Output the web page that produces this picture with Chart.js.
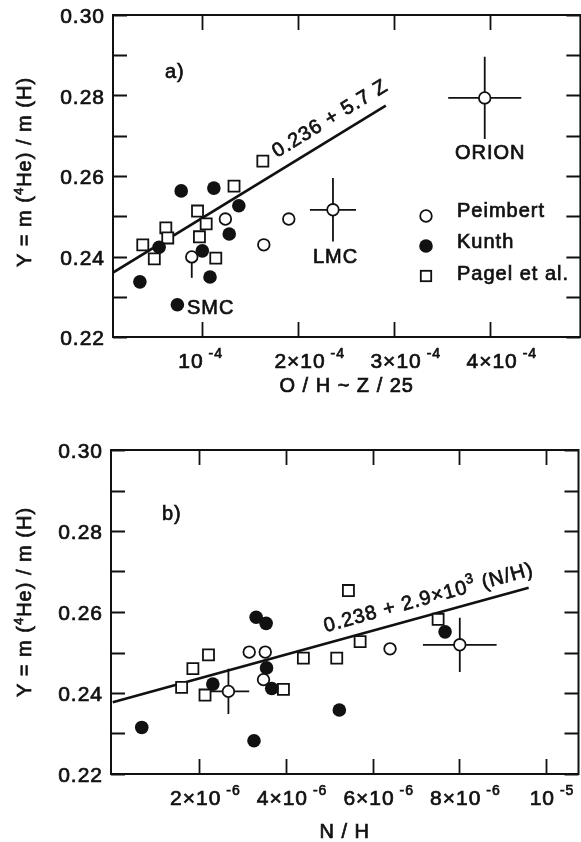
<!DOCTYPE html>
<html>
<head>
<meta charset="utf-8">
<script src="https://cdn.jsdelivr.net/npm/chart.js@4.4.1/dist/chart.umd.min.js"></script>
<style>
  html, body { margin: 0; padding: 0; background: #fff; overflow: hidden; }
  #wrap { position: relative; width: 581px; height: 842px; overflow: hidden; }
  canvas { position: absolute; left: 0; }
  #chartA { top: 0; }
  #chartB { top: 420px; }
</style>
</head>
<body>
<div id="wrap">
  <canvas id="chartA" width="590" height="420"></canvas>
  <canvas id="chartB" width="590" height="422"></canvas>
</div>
<script>
// ---- panel a) : Y vs O/H ----
const aPeimbertX = [0.89e-4, 1.24e-4, 1.64e-4, 1.90e-4, 2.36e-4, 3.94e-4];
const aPeimbertY = [0.2399, 0.2493, 0.2429, 0.2493, 0.2516, 0.2794];
const aPeimbertXErr = [0, 0, 0, 0, 0.24e-4, 0.38e-4];
const aPeimbertYErrLo = [0.0052, 0, 0, 0, 0.0079, 0.0102];
const aPeimbertYErrHi = [0, 0, 0, 0, 0.0079, 0.0102];
const aKunthX = [0.35e-4, 0.55e-4, 0.78e-4, 1.12e-4, 1.00e-4, 1.08e-4, 1.28e-4, 1.38e-4, 0.74e-4];
const aKunthY = [0.2337, 0.2423, 0.2563, 0.2570, 0.2414, 0.2349, 0.2456, 0.2526, 0.2280];
const aPagelX = [0.38e-4, 0.50e-4, 0.62e-4, 0.64e-4, 0.95e-4, 0.97e-4, 1.04e-4, 1.14e-4, 1.33e-4, 1.63e-4];
const aPagelY = [0.2429, 0.2394, 0.2471, 0.2446, 0.2513, 0.2449, 0.2481, 0.2396, 0.2575, 0.2637];
const aFitX = [0.07e-4, 2.91e-4];
const aFitY = [0.236, 0.2775];
const aXTicks = [1e-4, 2e-4, 3e-4, 4e-4];
const aXTickLabels = [['10', '-4'], ['2×10', '-4'], ['3×10', '-4'], ['4×10', '-4']];

// ---- panel b) : Y vs N/H ----
const bPeimbertX = [2.67e-6, 3.15e-6, 3.52e-6, 3.48e-6, 6.40e-6, 8.01e-6];
const bPeimbertY = [0.2404, 0.2501, 0.2501, 0.2433, 0.2509, 0.2519];
const bPeimbertXErr = [0.48e-6, 0, 0, 0, 0, 0.85e-6];
const bPeimbertYErrLo = [0.0056, 0, 0, 0, 0, 0.0067];
const bPeimbertYErrHi = [0.0056, 0, 0, 0, 0, 0.0067];
const bKunthX = [0.67e-6, 2.31e-6, 3.31e-6, 3.54e-6, 3.55e-6, 3.67e-6, 3.26e-6, 5.23e-6, 7.67e-6];
const bKunthY = [0.2315, 0.2422, 0.2587, 0.2572, 0.2462, 0.2411, 0.2282, 0.2358, 0.2551];
const bPagelX = [1.59e-6, 1.85e-6, 2.21e-6, 2.13e-6, 3.94e-6, 4.40e-6, 5.17e-6, 5.44e-6, 5.71e-6, 7.51e-6];
const bPagelY = [0.2414, 0.2460, 0.2494, 0.2395, 0.2409, 0.2486, 0.2486, 0.2653, 0.2527, 0.2582];
const bFitX = [0, 9.6e-6];
const bFitY = [0.2377, 0.266];
const bXTicks = [2e-6, 4e-6, 6e-6, 8e-6, 10e-6];
const bXTickLabels = [['2×10', '-6'], ['4×10', '-6'], ['6×10', '-6'], ['8×10', '-6'], ['10', '-5']];

// shared y axis
const yTicks = [0.22, 0.23, 0.24, 0.25, 0.26, 0.27, 0.28, 0.29, 0.30];
const yLabelTicks = [0.22, 0.24, 0.26, 0.28, 0.30];
const yTickLabels = ['0.22', '0.24', '0.26', '0.28', '0.30'];
const legendLabels = ['Peimbert', 'Kunth', 'Pagel et al.'];

const FONT = '"Liberation Sans", Arial, sans-serif';
const INK = '#111';

const zip = (xs, ys) => xs.map((x, i) => ({ x: x, y: ys[i] }));

// draw a row of text pieces: [text, size, raise]; a thin stroke thickens it like the print
function drawRuns(ctx, runs, x, y, align) {
  const widths = runs.map(r => { ctx.font = r[1] + 'px ' + FONT; return ctx.measureText(r[0]).width; });
  const total = widths.reduce((a, b) => a + b, 0);
  let cx = align === 'center' ? x - total / 2 : align === 'right' ? x - total : x;
  ctx.textAlign = 'left';
  ctx.textBaseline = 'alphabetic';
  ctx.lineWidth = 0.7;
  ctx.strokeStyle = INK;
  ctx.fillStyle = INK;
  runs.forEach((r, i) => {
    ctx.font = r[1] + 'px ' + FONT;
    ctx.fillText(r[0], cx, y - (r[2] || 0));
    ctx.strokeText(r[0], cx, y - (r[2] || 0));
    cx += widths[i];
  });
}

function makePaper(cfg) {
  return {
    id: 'paper',
    beforeDatasetsDraw(chart) {
      const ctx = chart.ctx, xs = chart.scales.x, ys = chart.scales.y;
      ctx.save();
      ctx.strokeStyle = INK;
      ctx.lineWidth = 1.8;
      const e = cfg.err;
      e.x.forEach((xv, i) => {
        const px = xs.getPixelForValue(xv), py = ys.getPixelForValue(e.y[i]);
        ctx.beginPath();
        if (e.xErr[i]) {
          ctx.moveTo(xs.getPixelForValue(xv - e.xErr[i]), py);
          ctx.lineTo(xs.getPixelForValue(xv + e.xErr[i]), py);
        }
        if (e.yLo[i] || e.yHi[i]) {
          ctx.moveTo(px, ys.getPixelForValue(e.y[i] - e.yLo[i]));
          ctx.lineTo(px, ys.getPixelForValue(e.y[i] + e.yHi[i]));
        }
        ctx.stroke();
      });
      ctx.restore();
    },
    afterDraw(chart) {
      const ctx = chart.ctx, a = chart.chartArea, xs = chart.scales.x, ys = chart.scales.y;
      ctx.save();
      ctx.strokeStyle = INK;
      ctx.fillStyle = INK;
      // frame
      ctx.lineWidth = 2;
      ctx.strokeRect(a.left, a.top, a.right - a.left, a.bottom - a.top);
      // inward ticks
      ctx.lineWidth = 1.8;
      ctx.beginPath();
      xs.ticks.forEach(t => {
        const px = Math.round(xs.getPixelForValue(t.value)) + 0.5;
        ctx.moveTo(px, a.bottom); ctx.lineTo(px, a.bottom - 15);
        ctx.moveTo(px, a.top); ctx.lineTo(px, a.top + 15);
      });
      ys.ticks.forEach(t => {
        const py = Math.round(ys.getPixelForValue(t.value)) + 0.5;
        ctx.moveTo(a.left, py); ctx.lineTo(a.left + 14, py);
        ctx.moveTo(a.right, py); ctx.lineTo(a.right - 14, py);
      });
      ctx.stroke();

      ctx.letterSpacing = '1px';
      // y tick labels
      yLabelTicks.forEach((v, i) => {
        drawRuns(ctx, [[yTickLabels[i], 21]], a.left - 8, ys.getPixelForValue(v) + 8, 'right');
      });
      // x tick labels with exponents
      cfg.xTicks.forEach((v, i) => {
        const lab = cfg.xLabels[i];
        drawRuns(ctx, [[lab[0], 21], [' ' + lab[1], 14, 10]],
          xs.getPixelForValue(v) + cfg.xLabelDx, a.bottom + 31, cfg.xLabelAlign);
      });
      // axis titles
      drawRuns(ctx, [[cfg.xTitle, 20]], (a.left + a.right) / 2, a.bottom + cfg.xTitleDy, 'center');
      ctx.save();
      ctx.translate(cfg.yTitlePos[0] + 7, cfg.yTitlePos[1]);
      ctx.rotate(-Math.PI / 2);
      drawRuns(ctx, [['Y = m (', 20], ['4', 13, 8], ['He) / m (H)', 20]], 0, 0, 'center');
      ctx.restore();

      // free labels
      cfg.texts.forEach(t => drawRuns(ctx, [[t[0], t[3] || 20]], t[1], t[2], 'left'));

      // fit equation along the line
      const x1 = xs.getPixelForValue(cfg.fitX[0]), y1 = ys.getPixelForValue(cfg.fitY[0]);
      const x2 = xs.getPixelForValue(cfg.fitX[1]), y2 = ys.getPixelForValue(cfg.fitY[1]);
      const ang = Math.atan2(y2 - y1, x2 - x1);
      const f = cfg.eq.at;
      ctx.save();
      ctx.translate(x1 + (x2 - x1) * f, y1 + (y2 - y1) * f);
      ctx.rotate(ang);
      drawRuns(ctx, cfg.eq.runs, 0, -cfg.eq.gap, 'center');
      ctx.restore();

      // legend
      if (cfg.legend) {
        const L = cfg.legend;
        ctx.strokeStyle = INK;
        ctx.lineWidth = 1.8;
        ctx.fillStyle = '#fff';
        ctx.beginPath(); ctx.arc(L.x, L.ys[0], 5.8, 0, Math.PI * 2); ctx.fill(); ctx.stroke();
        ctx.fillStyle = INK;
        ctx.beginPath(); ctx.arc(L.x, L.ys[1], 6.8, 0, Math.PI * 2); ctx.fill();
        ctx.strokeRect(L.x - 5.2, L.ys[2] - 5.2, 10.4, 10.4);
        legendLabels.forEach((lab, i) => drawRuns(ctx, [[lab, 20]], L.tx, L.tys[i], 'left'));
      }
      ctx.restore();
    }
  };
}

function makeChart(id, cfg) {
  return new Chart(document.getElementById(id), {
    type: 'scatter',
    data: {
      datasets: [
        { label: legendLabels[1], data: zip(cfg.kunth[0], cfg.kunth[1]), pointStyle: 'circle',
          pointRadius: 6.8, backgroundColor: INK, borderColor: INK, borderWidth: 0 },
        { label: legendLabels[0], data: zip(cfg.peimbert[0], cfg.peimbert[1]), pointStyle: 'circle',
          pointRadius: 5.8, backgroundColor: '#fff', borderColor: INK, borderWidth: 1.8 },
        { label: legendLabels[2], data: zip(cfg.pagel[0], cfg.pagel[1]), pointStyle: 'rect',
          pointRadius: 7.8, backgroundColor: '#fff', borderColor: INK, borderWidth: 1.8 },
        { label: 'fit', data: zip(cfg.fitX, cfg.fitY), showLine: true, pointRadius: 0,
          borderColor: INK, borderWidth: 2.6, fill: false }
      ]
    },
    options: {
      responsive: false,
      animation: false,
      events: [],
      devicePixelRatio: 1,
      layout: { padding: cfg.padding },
      plugins: { legend: { display: false }, tooltip: { enabled: false } },
      scales: {
        x: {
          type: 'linear', min: cfg.xMin, max: cfg.xMax,
          afterBuildTicks: s => { s.ticks = cfg.xTicks.map(v => ({ value: v })); },
          afterFit: s => { s.height = 0; },
          ticks: { display: false }, grid: { display: false }, border: { display: false }
        },
        y: {
          type: 'linear', min: 0.22, max: 0.30,
          afterBuildTicks: s => { s.ticks = yTicks.map(v => ({ value: v })); },
          afterFit: s => { s.width = 0; },
          ticks: { display: false }, grid: { display: false }, border: { display: false }
        }
      }
    },
    plugins: [makePaper(cfg)]
  });
}

makeChart('chartA', {
  peimbert: [aPeimbertX, aPeimbertY], kunth: [aKunthX, aKunthY], pagel: [aPagelX, aPagelY],
  fitX: aFitX, fitY: aFitY,
  err: { x: aPeimbertX, y: aPeimbertY, xErr: aPeimbertXErr, yLo: aPeimbertYErrLo, yHi: aPeimbertYErrHi },
  xMin: 0.07e-4, xMax: 4.936e-4,
  xTicks: aXTicks, xLabels: aXTickLabels, xLabelAlign: 'left', xLabelDx: -24,
  padding: { left: 113, top: 15, right: 6, bottom: 83 },
  xTitle: 'O / H ~ Z / 25', xTitleDy: 55,
  yTitlePos: [24, 172],
  texts: [['a)', 165, 78], ['SMC', 187, 314], ['LMC', 313, 263], ['ORION', 455, 159]],
  eq: { at: 0.83, gap: 12, runs: [['0.236 + 5.7 Z', 20]] },
  legend: { x: 426, ys: [216, 246, 276], tx: 457, tys: [217, 248, 280] }
});

makeChart('chartB', {
  peimbert: [bPeimbertX, bPeimbertY], kunth: [bKunthX, bKunthY], pagel: [bPagelX, bPagelY],
  fitX: bFitX, fitY: bFitY,
  err: { x: bPeimbertX, y: bPeimbertY, xErr: bPeimbertXErr, yLo: bPeimbertYErrLo, yHi: bPeimbertYErrHi },
  xMin: -0.04e-6, xMax: 10.75e-6,
  xTicks: bXTicks, xLabels: bXTickLabels, xLabelAlign: 'center', xLabelDx: 6,
  padding: { left: 111, top: 30, right: 11.5, bottom: 68 },
  xTitle: 'N / H', xTitleDy: 64,
  yTitlePos: [24, 182],
  texts: [['b)', 162, 100]],
  eq: { at: 0.77, gap: 11, runs: [['0.238 + 2.9×10', 20], ['3', 14, 9], [' (N/H)', 20]] },
  legend: null
});
</script>
</body>
</html>
